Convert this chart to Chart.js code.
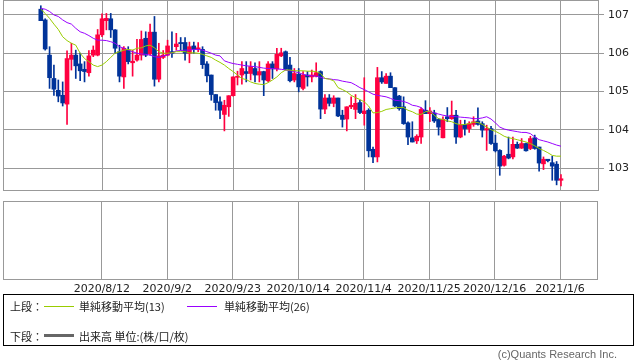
<!DOCTYPE html>
<html>
<head>
<meta charset="utf-8">
<script src="https://cdn.jsdelivr.net/npm/chart.js@4.4.1/dist/chart.umd.min.js"></script>
<style>
  body { margin: 0; background: #fff; width: 638px; height: 362px; position: relative; overflow: hidden; }
  canvas { position: absolute; left: 0; }
  #upper { top: 0; }
  #lower { top: 196px; }
  .legend { position: absolute; left: 3px; top: 294px; width: 629px; height: 50px; border: 1px solid #000;
            font-family: "Noto Sans CJK JP", sans-serif; font-size: 11px; color: #222; }
  .row { position: absolute; left: 6px; height: 14px; line-height: 14px; white-space: nowrap; }
  .sw { position: absolute; width: 30px; }
  .lbl { position: absolute; }
  .copy { position: absolute; right: 21px; top: 348px; font-family: "Liberation Sans", sans-serif;
          font-size: 11px; color: #666; }
</style>
</head>
<body>
<canvas id="upper" width="638" height="191"></canvas>
<canvas id="lower" width="638" height="104"></canvas>
<div class="legend">
  <div class="row" style="top:4px">上段：</div>
  <div class="sw" style="left:40px; top:11px; border-top:1px solid #99cc00"></div>
  <div class="lbl" style="left:75px; top:4px; line-height:14px">単純移動平均(13)</div>
  <div class="sw" style="left:183px; top:11px; border-top:1px solid #9900ff"></div>
  <div class="lbl" style="left:220px; top:4px; line-height:14px">単純移動平均(26)</div>
  <div class="row" style="top:34px">下段：</div>
  <div class="sw" style="left:40px; top:39px; border-top:3px solid #666"></div>
  <div class="lbl" style="left:75px; top:34px; line-height:14px">出来高 単位:(株/口/枚)</div>
</div>
<div class="copy">(c)Quants Research Inc.</div>
<script>
// 日足 2020/7/23 〜 2021/1/6 (平日のみ)
const startDate = '2020/7/23';
const opens = [107.15,106.87,105.95,105.34,105.03,104.90,104.67,105.84,105.95,105.72,105.58,105.49,105.95,105.95,106.48,106.85,106.90,106.61,106.04,105.38,
  106.08,105.75,105.82,105.95,106.39,105.98,106.55,105.32,105.89,105.95,106.04,106.17,106.28,106.28,106.00,106.19,106.11,106.10,105.72,105.43,
  104.92,104.73,104.40,104.60,104.89,105.37,105.43,105.52,105.47,105.60,105.43,105.52,105.28,105.72,105.59,105.93,106.04,105.69,105.30,105.45,
  105.08,105.43,105.38,105.40,105.52,104.54,104.83,104.69,104.83,104.38,104.28,104.60,104.53,104.71,104.42,104.51,103.49,103.29,105.36,105.21,
  105.40,105.10,104.88,104.60,104.18,103.79,103.71,103.81,104.51,104.42,104.44,104.27,103.79,104.34,104.29,104.38,103.81,104.14,104.03,104.14,
  104.23,104.16,103.99,104.03,103.65,103.46,103.07,103.36,103.29,103.62,103.52,103.64,103.51,103.79,103.55,103.11,103.23,103.14,103.10,102.68];
const highs = [107.24,106.90,106.17,105.69,105.30,105.25,106.06,106.26,106.08,106.00,105.78,106.07,106.19,106.62,107.03,107.04,107.04,106.62,106.21,106.17,
  106.17,106.08,106.36,106.58,106.56,106.76,106.96,106.26,106.07,106.34,106.56,106.52,106.41,106.41,106.29,106.29,106.28,106.17,105.78,105.43,
  104.92,104.86,104.77,104.89,105.38,105.53,105.78,105.78,105.78,105.75,105.78,105.53,105.78,105.78,106.13,106.13,106.06,105.89,105.60,105.60,
  105.52,105.52,105.56,105.75,105.54,104.92,104.92,104.89,104.83,104.51,104.60,104.86,104.92,104.77,105.36,104.55,103.55,105.63,105.52,105.47,
  105.49,105.10,104.90,104.86,104.21,104.21,103.87,104.57,104.76,104.58,104.51,104.29,104.34,104.58,104.75,104.51,104.25,104.25,104.21,104.34,
  104.57,104.21,104.12,104.09,103.86,103.48,103.33,103.81,103.81,103.68,103.77,103.65,103.83,103.86,103.55,103.29,103.23,103.31,103.17,102.83];
const lows = [106.85,106.08,105.08,104.90,104.73,104.62,104.14,105.56,105.34,105.28,105.25,105.40,105.91,105.93,106.43,106.61,106.41,106.00,105.25,105.08,
  105.72,105.40,105.79,105.82,105.91,105.95,105.14,105.25,105.86,105.93,105.89,106.08,106.08,105.82,105.75,106.00,106.04,105.60,105.25,104.77,
  104.51,104.29,103.97,104.35,104.88,105.17,105.19,105.25,105.30,105.25,105.25,104.89,105.25,105.34,105.54,105.91,105.56,105.25,105.25,104.99,
  105.04,105.14,105.25,105.38,104.29,104.42,104.62,104.60,104.34,104.07,103.97,104.55,104.29,104.42,104.12,103.29,103.14,103.16,105.21,105.21,
  105.10,104.60,104.51,104.14,103.61,103.68,103.64,103.64,104.45,104.21,104.19,103.86,103.79,104.21,104.27,103.64,103.79,103.86,103.93,104.09,
  104.12,103.81,103.46,103.62,103.42,102.81,103.05,103.24,103.24,103.51,103.51,103.44,103.48,103.49,102.92,102.96,103.16,102.68,102.56,102.53];
const closes = [106.85,106.11,105.36,105.06,104.88,104.70,105.86,105.95,105.67,105.54,105.52,105.93,106.08,106.48,106.90,106.91,106.61,106.13,105.40,106.13,
  105.78,105.79,105.95,106.36,105.95,106.55,105.32,105.93,105.95,106.19,106.00,106.24,106.25,106.00,106.17,106.10,106.14,105.70,105.41,104.92,
  104.71,104.51,104.64,104.89,105.38,105.38,105.60,105.47,105.65,105.43,105.52,105.30,105.72,105.59,105.97,106.01,105.58,105.28,105.47,105.12,
  105.43,105.38,105.43,105.49,104.54,104.83,104.69,104.83,104.36,104.27,104.60,104.64,104.69,104.45,104.49,103.45,103.29,105.36,105.25,105.40,
  105.10,104.62,104.55,104.16,103.81,103.68,103.83,104.53,104.42,104.49,104.23,104.07,104.27,104.29,104.38,103.81,104.14,104.03,104.16,104.21,
  104.14,103.99,104.03,103.64,103.45,103.05,103.31,103.26,103.62,103.52,103.64,103.45,103.77,103.51,103.13,103.23,103.19,103.05,102.68,102.72];
// 単純移動平均(13) / (26) — チャートから読み取り
const sma13 = [107.15,107.04,106.91,106.76,106.62,106.43,106.33,106.26,106.21,106.00,105.86,105.78,105.69,105.65,105.69,105.78,105.89,106.00,106.04,106.08,
  106.10,106.08,106.13,106.14,106.19,106.21,106.14,106.04,106.00,106.00,106.01,106.04,106.04,106.04,106.01,106.01,106.00,105.97,105.93,105.89,
  105.82,105.76,105.69,105.60,105.52,105.43,105.34,105.31,105.25,105.21,105.19,105.18,105.23,105.30,105.38,105.49,105.56,105.56,105.54,105.54,
  105.54,105.53,105.53,105.52,105.47,105.34,105.32,105.28,105.10,105.05,104.99,104.90,104.84,104.79,104.73,104.62,104.44,104.45,104.48,104.53,
  104.55,104.57,104.58,104.58,104.51,104.47,104.41,104.40,104.47,104.49,104.38,104.29,104.27,104.23,104.21,104.16,104.13,104.14,104.16,104.20,
  104.19,104.14,104.07,104.00,103.96,103.90,103.83,103.79,103.77,103.74,103.71,103.68,103.64,103.58,103.51,103.46,103.40,103.33,103.31,103.31];
const sma26 = [107.17,107.15,107.09,107.00,106.96,106.87,106.80,106.76,106.65,106.56,106.52,106.46,106.39,106.34,106.34,106.33,106.30,106.26,106.17,106.13,
  106.08,106.04,106.00,105.98,105.97,105.95,105.91,105.89,105.93,105.95,106.01,106.06,106.07,106.08,106.08,106.10,106.10,106.08,106.04,106.00,
  105.95,105.93,105.80,105.76,105.73,105.71,105.69,105.67,105.66,105.65,105.63,105.61,105.60,105.60,105.59,105.58,105.56,105.54,105.52,105.49,
  105.45,105.42,105.41,105.40,105.37,105.34,105.33,105.31,105.30,105.27,105.25,105.23,105.17,105.10,105.05,104.99,104.93,104.90,104.88,104.86,
  104.82,104.77,104.76,104.74,104.70,104.64,104.62,104.58,104.49,104.47,104.44,104.41,104.38,104.36,104.35,104.34,104.33,104.32,104.31,104.29,
  104.29,104.31,104.34,104.28,104.18,104.07,104.02,103.99,103.97,103.95,103.93,103.93,103.90,103.81,103.74,103.71,103.68,103.64,103.60,103.57];
const volumes = [];

const tickLabels = ['2020/8/12','2020/9/2','2020/9/23','2020/10/14','2020/11/4','2020/11/25','2020/12/16','2021/1/6'];
const yTicks = [103, 104, 105, 106, 107];

const UP = '#ff0040';
const DOWN = '#003399';
const GRID = '#999999';

// 営業日(平日)の日付ラベルを作る
function buildDates(start, n) {
    const [y, m, d] = start.split('/').map(Number);
    const dt = new Date(y, m - 1, d);
    const out = [];
    while (out.length < n) {
        const wd = dt.getDay();
        if (wd !== 0 && wd !== 6) {
            out.push(`${dt.getFullYear()}/${dt.getMonth() + 1}/${dt.getDate()}`);
        }
        dt.setDate(dt.getDate() + 1);
    }
    return out;
}

const dates = buildDates(startDate, closes.length);
const tickIdx = tickLabels.map(t => dates.indexOf(t));
const xMin = -8.65, xMax = 127.7;

const candleColors = closes.map((c, i) => c >= opens[i] ? UP : DOWN);

// 枠線を4辺とも描く
const framePlugin = {
    id: 'frame',
    afterDraw(chart) {
        const { ctx, chartArea: a } = chart;
        ctx.save();
        ctx.strokeStyle = GRID;
        ctx.lineWidth = 1;
        ctx.strokeRect(Math.round(a.left) + 0.5, Math.round(a.top) + 0.5,
            Math.round(a.right - a.left) - 1, Math.round(a.bottom - a.top) - 1);
        ctx.restore();
    }
};

const xScaleBase = {
    type: 'linear',
    min: xMin,
    max: xMax,
    offset: false,
    afterBuildTicks: s => { s.ticks = tickIdx.map(v => ({ value: v })); },
    grid: { color: GRID, drawTicks: false, offset: false },
    border: { display: false }
};

new Chart(document.getElementById('upper'), {
    type: 'bar',
    data: {
        datasets: [
            {
                type: 'line', label: '単純移動平均(13)', order: 0,
                data: sma13.map((v, i) => ({ x: i, y: v })),
                borderColor: '#99cc00', borderWidth: 1, pointRadius: 0, tension: 0
            },
            {
                type: 'line', label: '単純移動平均(26)', order: 0,
                data: sma26.map((v, i) => ({ x: i, y: v })),
                borderColor: '#9900ff', borderWidth: 1, pointRadius: 0, tension: 0
            },
            {
                label: 'body', order: 1, grouped: false,
                data: opens.map((o, i) => ({ x: i, y: [o, closes[i]] })),
                backgroundColor: candleColors, borderWidth: 0,
                barThickness: 4, minBarLength: 1
            },
            {
                label: 'wick', order: 2, grouped: false,
                data: lows.map((l, i) => ({ x: i, y: [l, highs[i]] })),
                backgroundColor: candleColors, borderWidth: 0,
                barThickness: 1
            }
        ]
    },
    options: {
        responsive: false,
        animation: false,
        layout: { padding: { left: 3, top: 0, right: 0, bottom: 0 } },
        plugins: { legend: { display: false }, tooltip: { enabled: false } },
        scales: {
            x: Object.assign({}, xScaleBase, {
                ticks: { display: false },
                afterFit: s => { s.height = 0; s.paddingLeft = 0; s.paddingRight = 0; }
            }),
            y: {
                position: 'right',
                min: 102.40,
                max: 107.39,
                afterBuildTicks: s => { s.ticks = yTicks.map(v => ({ value: v })); },
                afterFit: s => { s.width = 39; s.paddingTop = 0; s.paddingBottom = 0; },
                grid: { color: GRID, tickLength: 5 },
                border: { display: false },
                ticks: { color: '#222', padding: 4, font: { family: 'DejaVu Sans', size: 11 } }
            }
        }
    },
    plugins: [framePlugin]
});

new Chart(document.getElementById('lower'), {
    type: 'bar',
    data: {
        datasets: [{
            label: '出来高', grouped: false,
            data: volumes.map((v, i) => ({ x: i, y: v })),
            backgroundColor: '#666'
        }]
    },
    options: {
        responsive: false,
        animation: false,
        layout: { padding: { left: 3, top: 5, right: 0, bottom: 0 } },
        plugins: { legend: { display: false }, tooltip: { enabled: false } },
        scales: {
            x: Object.assign({}, xScaleBase, {
                ticks: {
                    color: '#222', padding: 3, maxRotation: 0, autoSkip: false,
                    font: { family: 'DejaVu Sans', size: 11 },
                    callback: v => dates[v]
                },
                afterFit: s => { s.height = 20; s.paddingLeft = 0; s.paddingRight = 0; }
            }),
            y: {
                position: 'right',
                min: 0, max: 1,
                afterFit: s => { s.width = 40; s.paddingTop = 0; s.paddingBottom = 0; },
                grid: { display: false },
                border: { display: false },
                ticks: { display: false }
            }
        }
    },
    plugins: [framePlugin]
});
</script>
</body>
</html>
